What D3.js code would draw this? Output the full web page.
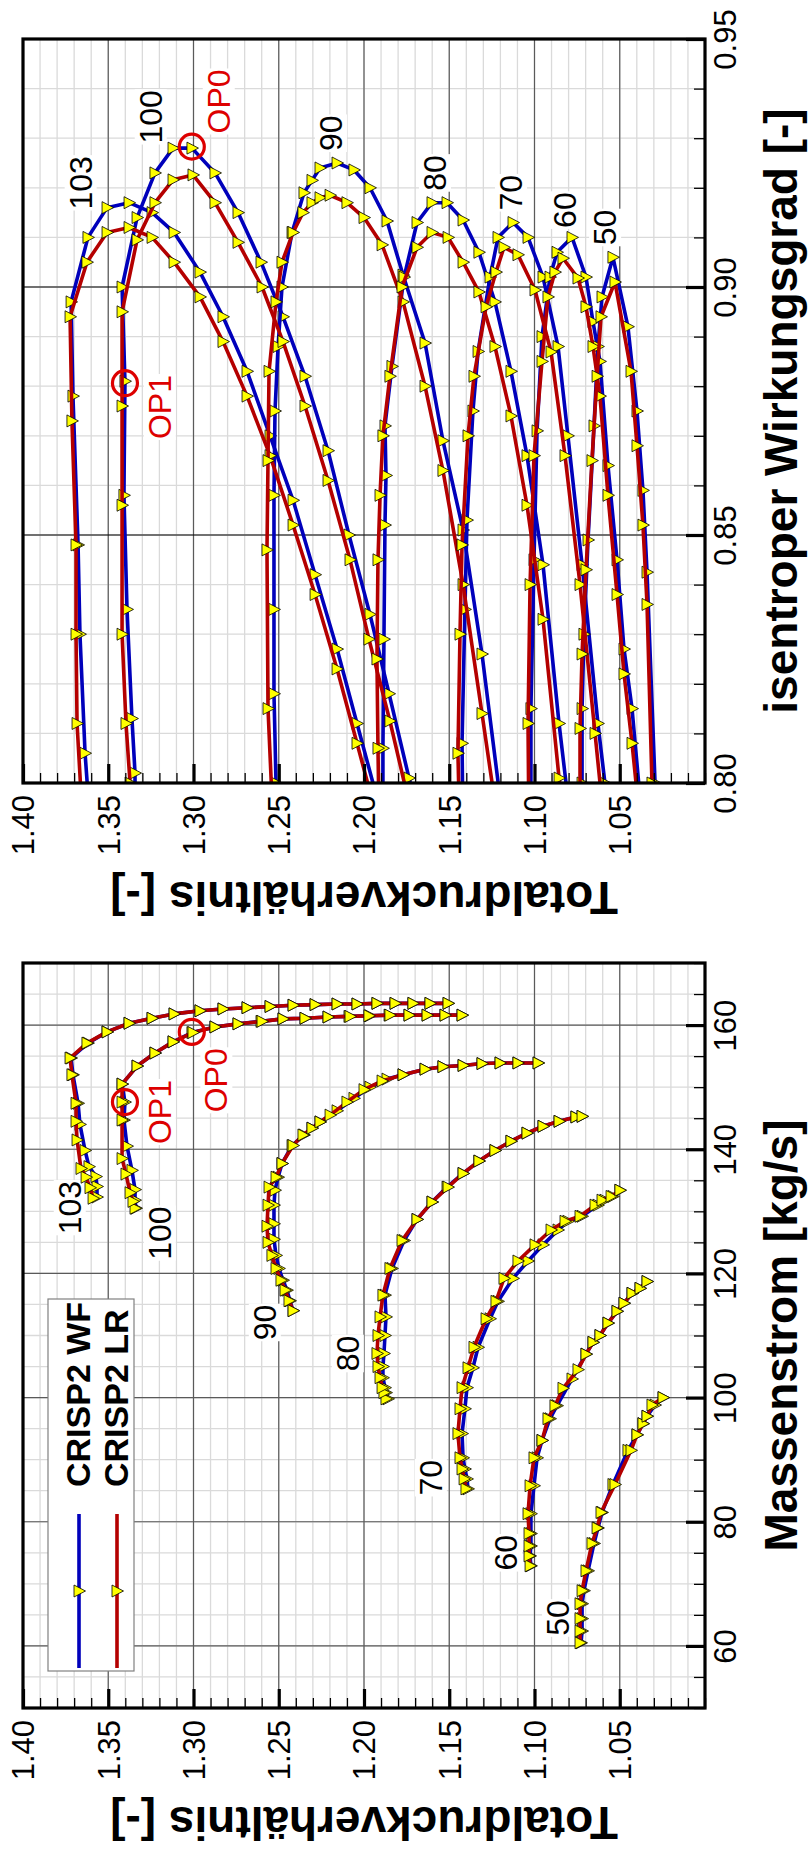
<!DOCTYPE html>
<html>
<head>
<meta charset="utf-8">
<script src="https://cdn.jsdelivr.net/npm/d3@7"></script>
<style>
  body { margin: 0; background: #fff; }
  svg { display: block; }
  text { font-family: "Liberation Sans", Arial, Helvetica, sans-serif; }
</style>
</head>
<body>
<div id="chart"></div>
<script>
// Kennfeld CRISP2: Totaldruckverhaeltnis ueber Massenstrom / isentropem Wirkungsgrad
// each point: [Totaldruckverhaeltnis, Massenstrom kg/s, isentroper Wirkungsgrad]

const wf103 = [[1.3566,132.3,0.760],[1.3566,134.0,0.770],[1.3572,135.6,0.780],[1.3613,137.2,0.795],[1.3636,139.8,0.806],
  [1.3666,144.0,0.830],[1.3677,147.4,0.848],[1.3707,152.0,0.878],[1.3718,154.7,0.897],[1.3619,157.1,0.910],
  [1.3507,158.9,0.916],[1.3378,160.3,0.917],[1.3243,161.1,0.915],[1.3114,161.8,0.911],[1.2962,162.3,0.903],
  [1.2827,162.6,0.894],[1.2686,162.8,0.883],[1.2551,163.0,0.870],[1.2416,163.2,0.857],[1.2287,163.3,0.842],
  [1.2158,163.4,0.827],[1.2041,163.4,0.812],[1.1924,163.5,0.797],[1.1818,163.5,0.784],[1.1713,163.5,0.771],
  [1.1613,163.5,0.759],[1.1507,163.5,0.747]]
const lr103 = [[1.3589,132.1,0.758],[1.3607,133.8,0.770],[1.3630,135.5,0.783],[1.3660,136.9,0.798],[1.3683,141.5,0.812],
  [1.3689,144.5,0.830],[1.3689,147.4,0.848],[1.3713,152.0,0.873],[1.3724,154.7,0.894],[1.3625,157.1,0.905],
  [1.3507,158.9,0.911],[1.3378,160.3,0.912],[1.3243,161.1,0.910],[1.3114,161.8,0.905],[1.2962,162.3,0.898],
  [1.2827,162.6,0.889],[1.2686,162.8,0.878],[1.2551,163.0,0.866],[1.2416,163.2,0.852],[1.2287,163.3,0.838],
  [1.2158,163.4,0.823],[1.2041,163.4,0.808],[1.1924,163.5,0.793],[1.1818,163.5,0.780],[1.1713,163.5,0.767],
  [1.1613,163.5,0.755],[1.1507,163.5,0.743]]

const wf100 = [[1.3337,130.5,0.780],[1.3343,131.8,0.792],[1.3343,133.5,0.802],[1.3361,136.6,0.813],[1.3390,140.5,0.835],
  [1.3408,144.7,0.858],[1.3402,147.6,0.881],[1.3419,150.5,0.900],[1.3331,153.4,0.914],[1.3226,155.5,0.923],
  [1.3120,157.3,0.928],[1.3009,158.8,0.928],[1.2874,159.7,0.923],[1.2739,160.2,0.915],[1.2604,160.6,0.905],
  [1.2475,161.0,0.894],[1.2346,161.1,0.882],[1.2211,161.3,0.867],[1.2088,161.4,0.850],[1.1965,161.5,0.834],
  [1.1853,161.6,0.818],[1.1736,161.6,0.801],[1.1630,161.6,0.787],[1.1525,161.6,0.773],[1.1425,161.6,0.760]]
const lr100 = [[1.3343,130.5,0.778],[1.3355,131.6,0.789],[1.3372,133.0,0.800],[1.3396,136.0,0.812],[1.3419,138.5,0.830],
  [1.3419,144.7,0.856],[1.3419,147.6,0.876],[1.3419,150.5,0.895],[1.3331,153.4,0.9095],[1.3226,155.5,0.917],
  [1.3120,157.3,0.9216],[1.3003,158.8,0.9226],[1.2874,159.7,0.917],[1.2739,160.2,0.909],[1.2598,160.6,0.900],
  [1.2475,161.0,0.889],[1.2346,161.1,0.876],[1.2211,161.3,0.861],[1.2082,161.4,0.845],[1.1971,161.5,0.829],
  [1.1848,161.6,0.8125],[1.1736,161.6,0.796],[1.1630,161.6,0.782],[1.1525,161.6,0.768],[1.1425,161.6,0.755]]

const wf90 = [[1.2416,114.0,0.740],[1.2434,115.6,0.750],[1.2452,117.3,0.760],[1.2475,118.9,0.770],[1.2499,120.8,0.785],
  [1.2516,122.9,0.800],[1.2528,125.5,0.818],[1.2528,128.0,0.835],[1.2528,131.0,0.858],[1.2522,133.4,0.875],
  [1.2504,135.5,0.888],[1.2481,137.7,0.900],[1.2422,140.6,0.911],[1.2352,142.3,0.919],[1.2305,143.4,0.9215],
  [1.2258,144.4,0.924],[1.2158,146.2,0.925],[1.2059,148.2,0.9236],[1.1965,150.0,0.920],[1.1865,151.3,0.9133],
  [1.1771,152.0,0.9024],[1.1642,152.9,0.8887],[1.1537,153.3,0.869],[1.1419,153.5,0.851],[1.1308,153.8,0.826],
  [1.1202,153.9,0.797],[1.1097,153.9,0.775],[1.0979,153.9,0.755]]
const lr90 = [[1.2416,114.0,0.738],[1.2440,115.6,0.748],[1.2463,117.3,0.758],[1.2487,118.9,0.768],[1.2516,120.8,0.782],
  [1.2540,122.9,0.797],[1.2563,125.0,0.815],[1.2569,127.6,0.847],[1.2563,131.0,0.865],[1.2557,133.9,0.883],
  [1.2516,135.5,0.897],[1.2481,137.7,0.905],[1.2416,140.6,0.911],[1.2358,142.3,0.915],[1.2305,143.4,0.917],
  [1.2258,144.4,0.918],[1.2199,145.5,0.9185],[1.2100,147.6,0.917],[1.2000,149.6,0.914],[1.1894,151.0,0.9085],
  [1.1771,152.0,0.897],[1.1642,152.9,0.880],[1.1537,153.3,0.863],[1.1419,153.5,0.840],[1.1308,153.8,0.814],
  [1.1202,153.9,0.789],[1.1097,153.9,0.770],[1.0979,153.9,0.750]]

const wf80 = [[1.1859,99.8,0.740],[1.1871,100.8,0.750],[1.1877,101.6,0.760],[1.1889,103.2,0.785],[1.1889,105.0,0.807],
  [1.1883,107.1,0.829],[1.1877,110.0,0.852],[1.1871,113.0,0.862],[1.1877,116.5,0.872],[1.1836,120.8,0.884],
  [1.1765,125.3,0.902],[1.1689,128.7,0.913],[1.1601,131.5,0.917],[1.1513,133.9,0.917],[1.1419,136.1,0.9135],
  [1.1326,138.1,0.907],[1.1232,139.8,0.897],[1.1138,141.3,0.883],[1.1044,142.6,0.866],[1.0950,143.7,0.844],
  [1.0856,144.5,0.812],[1.0757,145.2,0.783],[1.0721,145.3,0.775]]
const lr80 = [[1.1871,99.8,0.738],[1.1883,100.8,0.748],[1.1894,101.6,0.758],[1.1906,103.2,0.780],[1.1918,105.0,0.807],
  [1.1924,107.1,0.825],[1.1918,110.0,0.845],[1.1906,113.0,0.858],[1.1889,116.5,0.870],[1.1848,120.8,0.882],
  [1.1777,125.3,0.900],[1.1689,128.7,0.908],[1.1601,131.5,0.911],[1.1507,133.9,0.910],[1.1419,136.1,0.905],
  [1.1326,138.1,0.899],[1.1232,139.8,0.888],[1.1138,141.3,0.874],[1.1044,142.6,0.856],[1.0950,143.7,0.833],
  [1.0856,144.5,0.801],[1.0757,145.2,0.778],[1.0721,145.3,0.770]]

const wf70 = [[1.1390,85.3,0.760],[1.1396,86.9,0.770],[1.1408,88.5,0.780],[1.1419,90.3,0.790],[1.1425,94.2,0.808],
  [1.1408,98.2,0.835],[1.1396,101.6,0.853],[1.1361,104.8,0.875],[1.1331,108.1,0.887],[1.1261,112.7,0.902],
  [1.1214,115.5,0.910],[1.1126,119.2,0.913],[1.1038,122.0,0.910],[1.0950,124.6,0.902],[1.0862,127.0,0.888],
  [1.0804,128.4,0.870],[1.0721,129.2,0.844],[1.0628,131.0,0.812],[1.0587,131.8,0.800],[1.0540,132.4,0.790],
  [1.0499,133.4,0.780]]
const lr70 = [[1.1402,85.3,0.758],[1.1413,86.9,0.768],[1.1425,88.5,0.778],[1.1437,90.3,0.788],[1.1449,94.2,0.806],
  [1.1437,98.2,0.830],[1.1425,101.6,0.848],[1.1390,104.8,0.870],[1.1355,108.1,0.882],[1.1284,112.7,0.896],
  [1.1226,115.5,0.903],[1.1179,119.2,0.908],[1.1097,122.0,0.9065],[1.0997,124.6,0.8994],[1.0903,127.0,0.8869],
  [1.0821,128.4,0.866],[1.0733,129.2,0.840],[1.0645,131.0,0.810],[1.0604,131.8,0.796],[1.0551,132.4,0.786],
  [1.0499,133.4,0.776]]

const wf60 = [[1.1021,72.9,0.760],[1.1026,74.5,0.770],[1.1021,76.1,0.780],[1.1021,78.1,0.790],[1.1021,81.3,0.815],
  [1.1003,85.8,0.845],[1.0985,90.3,0.871],[1.0956,93.1,0.890],[1.0909,96.6,0.902],[1.0868,98.7,0.907],
  [1.0780,103.0,0.910],[1.0698,107.0,0.902],[1.0657,108.9,0.893],[1.0616,110.0,0.885],[1.0569,112.0,0.864],
  [1.0516,113.9,0.845],[1.0475,115.2,0.827],[1.0428,116.8,0.815],[1.0381,117.6,0.797],[1.0340,118.7,0.785]]
const lr60 = [[1.1026,72.9,0.758],[1.1032,74.5,0.768],[1.1032,76.1,0.778],[1.1032,78.1,0.788],[1.1038,81.3,0.812],
  [1.1026,85.8,0.840],[1.1003,90.3,0.866],[1.0956,93.1,0.885],[1.0921,96.6,0.898],[1.0880,98.7,0.903],
  [1.0833,101.5,0.9058],[1.0745,104.5,0.9018],[1.0698,107.0,0.896],[1.0657,108.9,0.888],[1.0616,110.0,0.878],
  [1.0569,112.0,0.858],[1.0516,113.9,0.838],[1.0475,115.2,0.822],[1.0428,116.8,0.808],[1.0381,117.6,0.792],
  [1.0340,118.7,0.780]]

const wf50 = [[1.0727,60.5,0.770],[1.0721,62.4,0.785],[1.0721,64.4,0.800],[1.0721,66.8,0.815],[1.0710,68.9,0.830],
  [1.0686,72.1,0.849],[1.0651,76.5,0.872],[1.0628,79.0,0.888],[1.0604,81.5,0.898],[1.0540,86.0,0.906],
  [1.0452,91.5,0.892],[1.0399,94.0,0.875],[1.0364,95.8,0.859],[1.0340,97.0,0.8425],[1.0293,98.8,0.800],
  [1.0246,100.0,0.780]]
const lr50 = [[1.0733,60.5,0.768],[1.0733,62.4,0.782],[1.0733,64.4,0.796],[1.0733,66.8,0.811],[1.0721,68.9,0.826],
  [1.0698,72.1,0.843],[1.0663,76.5,0.865],[1.0633,79.0,0.882],[1.0610,81.5,0.894],[1.0528,86.0,0.901],
  [1.0434,91.5,0.883],[1.0399,94.0,0.868],[1.0364,95.8,0.852],[1.0340,97.0,0.836],[1.0311,98.8,0.800],
  [1.0246,100.0,0.775]]

const speeds = [103, 100, 90, 80, 70, 60, 50]
const seriesNames = ["CRISP2 WF", "CRISP2 LR"]

// operating points OP0 / OP1: [PR, mass flow, efficiency]
const opNames = ["OP0", "OP1"]
const opValues = [[1.301, 158.9, 0.9283], [1.3402, 147.6, 0.8806]]

// axis ticks
const prLabels = [1.40, 1.35, 1.30, 1.25, 1.20, 1.15, 1.10, 1.05]
const prMinor = d3.range(100, 141).map(v => v / 100)
const massLabels = [60, 80, 100, 120, 140, 160]
const massMinor = d3.range(50, 171, 5)
const etaLabels = [0.80, 0.85, 0.90, 0.95]
const etaMinor = d3.range(80, 96).map(v => v / 100)

// ------------------------------------------------------------------
const W = 811, H = 1849
const colors = ["#0000bb", "#b40000"]
const opColor = "#dd0000"
const tri = "M-5,-6L6.5,0L-5,6Z"

const xPR = d3.scaleLinear().domain([1.40, 1.00]).range([23, 705])
const yEta = d3.scaleLinear().domain([0.80, 0.95]).range([783, 39])
const yMass = d3.scaleLinear().domain([50, 170]).range([1708, 963])

const lines = {
  "CRISP2 WF": { 103: wf103, 100: wf100, 90: wf90, 80: wf80, 70: wf70, 60: wf60, 50: wf50 },
  "CRISP2 LR": { 103: lr103, 100: lr100, 90: lr90, 80: lr80, 70: lr70, 60: lr60, 50: lr50 }
}

var svg = d3.select("#chart").append("svg")
    .attr("width", W)
    .attr("height", H)
svg.append("rect").attr("width", W).attr("height", H).attr("fill", "#fff")

// rotated text with white box behind it
function label(parent, x, y, txt, size, color, weight) {
  const g = parent.append("g").attr("transform", "translate(" + x + "," + y + ") rotate(-90)")
  const t = g.append("text")
      .attr("text-anchor", "middle")
      .attr("dy", "0.35em")
      .attr("font-size", size)
      .attr("font-weight", weight || "normal")
      .attr("fill", color)
      .text(txt)
  const bb = t.node().getBBox()
  g.insert("rect", "text")
      .attr("x", bb.x - 1).attr("y", bb.y + 2)
      .attr("width", bb.width + 2).attr("height", bb.height - 4)
      .attr("fill", "#fff")
}

function drawPanel(p) {
  const [x0, x1] = xPR.range()
  const y = p.y
  const g = svg.append("g")

  svg.append("clipPath").attr("id", p.clip).append("rect")
      .attr("x", x0).attr("y", p.top)
      .attr("width", x1 - x0).attr("height", p.bottom - p.top)

  // grid
  const grid = g.append("g")
  grid.selectAll(".vmin").data(prMinor).enter().append("line")
      .attr("x1", d => xPR(d)).attr("x2", d => xPR(d))
      .attr("y1", p.top).attr("y2", p.bottom)
      .attr("stroke", "#dadada").attr("stroke-width", 1.3)
  grid.selectAll(".hmin").data(p.yMinor).enter().append("line")
      .attr("x1", x0).attr("x2", x1)
      .attr("y1", d => y(d)).attr("y2", d => y(d))
      .attr("stroke", "#dadada").attr("stroke-width", 1.3)
  grid.selectAll(".vmaj").data(prLabels.slice(1)).enter().append("line")
      .attr("x1", d => xPR(d)).attr("x2", d => xPR(d))
      .attr("y1", p.top).attr("y2", p.bottom)
      .attr("stroke", "#5a5a5a").attr("stroke-width", 1.2)
  grid.selectAll(".hmaj").data(p.yGrid).enter().append("line")
      .attr("x1", x0).attr("x2", x1)
      .attr("y1", d => y(d)).attr("y2", d => y(d))
      .attr("stroke", p.hGridColor).attr("stroke-width", 1.2)

  // speed labels and OP labels
  const lab = g.append("g")
  speeds.forEach(s => {
    const pos = p.speedPos[s]
    label(lab, xPR(pos[0]), y(pos[1]), String(s), 32, "#000")
  })
  opNames.forEach((n, i) => {
    const pos = p.opPos[i]
    label(lab, xPR(pos[0]), y(pos[1]), n, 32, opColor)
  })

  // curves
  const plot = g.append("g").attr("clip-path", "url(#" + p.clip + ")")
  const line = d3.line().x(d => xPR(d[0])).y(d => y(d[p.idx]))
  seriesNames.forEach((name, si) => {
    const sg = plot.append("g")
    speeds.forEach(s => {
      const data = lines[name][s]
      sg.append("path")
          .attr("d", line(data))
          .attr("fill", "none")
          .attr("stroke", colors[si])
          .attr("stroke-width", 3.6)
          .attr("stroke-linejoin", "round")
      sg.selectAll(null).data(data).enter().append("path")
          .attr("d", tri)
          .attr("transform", d => "translate(" + xPR(d[0]) + "," + y(d[p.idx]) + ")")
          .attr("fill", "#ffff00")
          .attr("stroke", "#000")
          .attr("stroke-width", 0.8)
    })
  })

  // operating point circles
  plot.selectAll(".op").data(opValues).enter().append("circle")
      .attr("cx", d => xPR(d[0]))
      .attr("cy", d => y(d[p.idx]))
      .attr("r", 12.5)
      .attr("fill", "none")
      .attr("stroke", opColor)
      .attr("stroke-width", 3.2)

  if (p.legend) p.legend(g)

  // pressure ratio axis (bottom)
  const axMin = g.append("g").attr("transform", "translate(0," + p.bottom + ")")
      .call(d3.axisBottom(xPR).tickValues(prMinor).tickSize(-10).tickFormat(""))
  axMin.select(".domain").remove()
  axMin.selectAll("line").attr("stroke-width", 1.3)

  const axMaj = g.append("g").attr("transform", "translate(0," + p.bottom + ")")
      .call(d3.axisBottom(xPR).tickValues(prLabels).tickSize(-19).tickFormat(d3.format(".2f")))
  axMaj.select(".domain").remove()
  axMaj.attr("font-size", 31).attr("font-family", null)
  axMaj.selectAll("line").attr("stroke-width", 3.2)
  axMaj.selectAll("text")
      .attr("transform", "translate(0,12) rotate(-90)")
      .attr("x", 0).attr("y", 0).attr("dy", "0.35em")
      .attr("text-anchor", "end")

  // right axis
  const ayMin = g.append("g").attr("transform", "translate(" + x1 + ",0)")
      .call(d3.axisRight(y).tickValues(p.yMinor).tickSize(-11).tickFormat(""))
  ayMin.select(".domain").remove()
  ayMin.selectAll("line").attr("stroke-width", 1.3)

  const ayMaj = g.append("g").attr("transform", "translate(" + x1 + ",0)")
      .call(d3.axisRight(y).tickValues(p.yLabels).tickSize(-19).tickFormat(p.fmt))
  ayMaj.select(".domain").remove()
  ayMaj.attr("font-size", 31).attr("font-family", null)
  ayMaj.selectAll("line").attr("stroke-width", 3.2)
  ayMaj.selectAll("text")
      .attr("transform", "translate(20,0) rotate(-90)")
      .attr("x", 0).attr("y", 0).attr("dy", "0.35em")
      .attr("text-anchor", "middle")

  // frame
  g.append("rect")
      .attr("x", x0).attr("y", p.top)
      .attr("width", x1 - x0).attr("height", p.bottom - p.top)
      .attr("fill", "none").attr("stroke", "#000").attr("stroke-width", 3.2)

  // axis titles
  g.append("text")
      .attr("transform", "translate(" + ((x0 + x1) / 2) + "," + (p.bottom + 99) + ") rotate(180)")
      .attr("text-anchor", "middle")
      .attr("font-size", 46).attr("font-weight", "bold")
      .text("Totaldruckverhältnis [-]")
  g.append("text")
      .attr("transform", "translate(797," + ((p.top + p.bottom) / 2) + ") rotate(-90)")
      .attr("text-anchor", "middle")
      .attr("font-size", 46).attr("font-weight", "bold")
      .text(p.yTitle)
}

// efficiency map (top)
drawPanel({
  y: yEta, idx: 2, top: 39, bottom: 783, clip: "clipEta",
  yMinor: etaMinor, yLabels: etaLabels, yGrid: [0.85, 0.90], hGridColor: "#000",
  fmt: d3.format(".2f"), yTitle: "isentroper Wirkungsgrad [-]",
  speedPos: { 103: [1.3663, 0.921], 100: [1.3252, 0.9343], 90: [1.2195, 0.931], 80: [1.1585, 0.923],
              70: [1.1139, 0.919], 60: [1.0822, 0.9155], 50: [1.0587, 0.912] },
  opPos: [[1.2853, 0.9374], [1.3199, 0.8758]]
})

// mass flow map (bottom)
drawPanel({
  y: yMass, idx: 1, top: 963, bottom: 1708, clip: "clipMass",
  yMinor: massMinor, yLabels: massLabels, yGrid: massLabels, hGridColor: "#5a5a5a",
  fmt: d3.format("d"), yTitle: "Massenstrom [kg/s]",
  speedPos: { 103: [1.3727, 130.6], 100: [1.3199, 126.5], 90: [1.2583, 112.1], 80: [1.2096, 107.1],
              70: [1.1609, 87.1], 60: [1.1168, 75.0], 50: [1.0863, 64.5] },
  opPos: [[1.2867, 151.1], [1.3199, 146.0]],
  legend: function (g) {
    const lg = g.append("g")
    lg.append("rect")
        .attr("x", 48).attr("y", 1299).attr("width", 86).attr("height", 372)
        .attr("fill", "#fff").attr("stroke", "#808080").attr("stroke-width", 1.2)
    seriesNames.forEach((name, i) => {
      const lx = 79 + i * 38
      lg.append("line")
          .attr("x1", lx).attr("x2", lx).attr("y1", 1514).attr("y2", 1668)
          .attr("stroke", colors[i]).attr("stroke-width", 3.6)
      lg.append("path").attr("d", tri)
          .attr("transform", "translate(" + lx + ",1591)")
          .attr("fill", "#ffff00").attr("stroke", "#000").attr("stroke-width", 0.8)
      lg.append("text")
          .attr("transform", "translate(" + (lx + 11) + ",1487) rotate(-90)")
          .attr("font-size", 34).attr("font-weight", "bold")
          .text(name)
    })
  }
})
</script>
</body>
</html>
